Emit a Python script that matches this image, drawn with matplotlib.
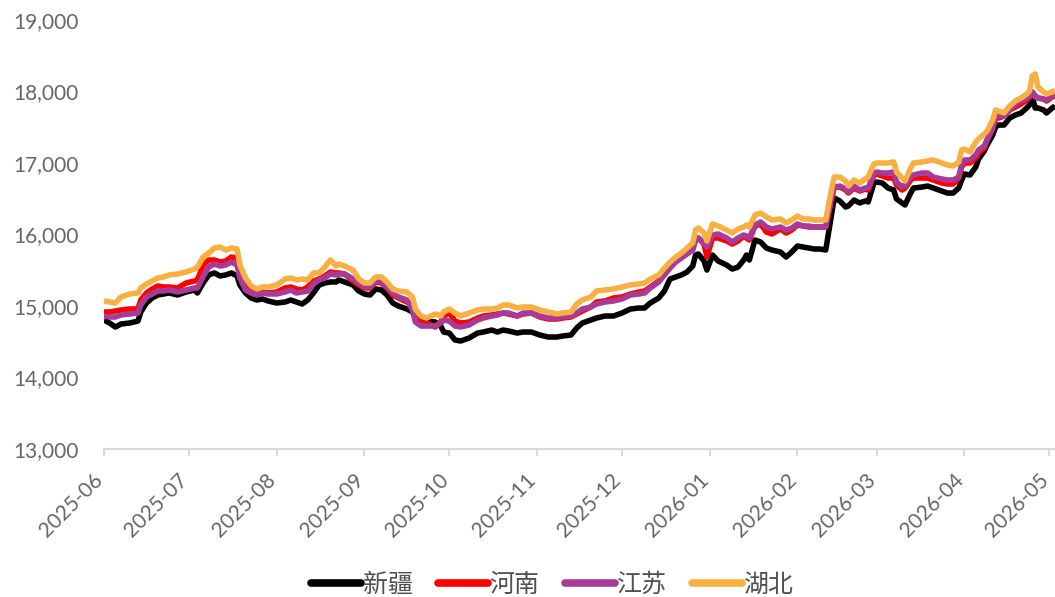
import matplotlib
matplotlib.use("Agg")
import matplotlib.pyplot as plt
import matplotlib.dates as mdates
import matplotlib.ticker as mticker
import matplotlib.transforms as mtransforms
from matplotlib.lines import Line2D
import pandas as pd

# ---------------- data ----------------
start_date = "2025-06-01"
days_since_start = [
    0, 2, 4, 6, 9, 12, 13, 15, 17, 19, 21, 23, 26, 29, 32, 33, 35, 37, 39, 41, 43, 45, 47, 48, 50, 52, 54, 56, 58,
    61, 64, 66, 68, 70, 72, 74, 76, 78, 80, 82, 83, 85, 88, 90, 92, 94, 96, 98, 100, 102, 104, 107, 109, 110, 112, 114,
    117, 119, 120, 122, 124, 126, 129, 132, 134, 137, 139, 141, 143, 146, 148, 151, 154, 157, 160, 162, 165, 167, 169, 172,
    174, 177, 180, 183, 186, 189, 191, 193, 196, 198, 200, 202, 204, 206, 208, 209, 210, 212, 213, 215, 217, 220, 222, 224,
    226, 227, 228, 230, 232, 234, 236, 239, 241, 243, 245, 247, 249, 251, 253, 255, 257, 258, 260, 262, 263, 265, 267, 269,
    270, 272, 273, 275, 277,
    279, 280, 282, 283, 285, 286, 289, 291, 293, 296, 298, 300, 302, 303, 304, 306, 308, 309, 311, 312, 314, 315, 316, 318,
    320, 322, 324, 326, 327, 328, 329, 330, 332, 333, 335, 336,
]

xinjiang = [
    14804, 14762, 14706, 14748, 14762, 14790, 14916, 15042, 15112, 15154, 15168, 15182, 15154, 15196, 15224, 15182, 15322,
    15434, 15462, 15420, 15434, 15462, 15420, 15294, 15182, 15112, 15084, 15098, 15070,
    15042, 15056, 15084, 15056, 15028, 15084, 15182, 15294, 15322, 15336, 15336, 15364, 15336, 15294, 15210, 15168, 15154,
    15238, 15224, 15154, 15042, 15000, 14958, 14916, 14832, 14804, 14790,
    14776, 14720, 14636, 14622, 14525, 14510, 14552, 14622, 14636, 14664, 14636, 14664, 14650, 14622, 14636, 14636, 14594,
    14566, 14566, 14580, 14594, 14692, 14762, 14804,
    14832, 14860, 14860, 14902, 14958, 14972, 14972, 15042, 15112, 15210, 15378, 15406, 15434, 15476, 15559, 15713, 15727,
    15629, 15503, 15713, 15629, 15573, 15517, 15545,
    15643, 15713, 15643, 15923, 15895, 15811, 15783, 15755, 15685, 15755, 15839, 15825, 15811, 15797, 15797, 15783, 16273,
    16510, 16469, 16385, 16399, 16482, 16441, 16469, 16455, 16720, 16734, 16720, 16650,
    16622, 16497, 16441, 16413, 16580, 16650, 16664, 16678, 16650, 16608, 16580, 16580, 16650, 16762, 16846, 16832, 16944,
    17056, 17168, 17252, 17392, 17503, 17531, 17531, 17629, 17671, 17699, 17769, 17811, 17923, 17769, 17769, 17741, 17699,
    17769, 17797,
]

henan = [
    14916, 14916, 14930, 14944, 14958, 14958, 15084, 15182, 15238, 15280, 15266, 15266, 15252, 15322, 15350, 15364, 15573,
    15643, 15643, 15615, 15629, 15685, 15671, 15503, 15308, 15224, 15182, 15196, 15182,
    15196, 15252, 15266, 15238, 15224, 15266, 15350, 15378, 15420, 15476, 15462, 15462, 15448, 15350, 15294, 15252, 15252,
    15336, 15322, 15252, 15154, 15112, 15056, 15014, 14860, 14804, 14762,
    14706, 14776, 14860, 14902, 14790, 14762, 14776, 14832, 14860, 14874, 14888, 14902, 14888, 14860, 14888, 14902, 14846,
    14818, 14818, 14832, 14846, 14888, 14930, 14986,
    15056, 15070, 15112, 15126, 15168, 15196, 15210, 15266, 15350, 15448, 15545, 15629, 15685, 15741, 15797, 15923, 15951,
    15867, 15685, 15951, 15951, 15909, 15867, 15909,
    15979, 15951, 15923, 16119, 16147, 16035, 16007, 16077, 16021, 16063, 16133, 16119, 16105, 16105, 16105, 16105, 16482,
    16664, 16664, 16622, 16580, 16650, 16608, 16636, 16622, 16832, 16846, 16818, 16790,
    16790, 16692, 16622, 16650, 16762, 16790, 16790, 16790, 16762, 16720, 16706, 16706, 16790, 16944, 17000, 17000, 17070,
    17140, 17210, 17322, 17490, 17629, 17629, 17657, 17741, 17783, 17825, 17880, 17923, 17993, 17937, 17909, 17895, 17867,
    17923, 17951,
]

jiangsu = [
    14860, 14846, 14846, 14874, 14888, 14902, 15014, 15126, 15168, 15210, 15210, 15224, 15196, 15224, 15252, 15252, 15406,
    15545, 15587, 15559, 15573, 15615, 15573, 15392, 15224, 15182, 15154, 15182, 15168,
    15168, 15196, 15224, 15182, 15196, 15210, 15308, 15364, 15392, 15448, 15434, 15448, 15448, 15378, 15322, 15266, 15266,
    15350, 15336, 15266, 15182, 15126, 15084, 14944, 14776, 14720, 14720,
    14720, 14762, 14804, 14790, 14720, 14706, 14734, 14804, 14832, 14860, 14874, 14902, 14902, 14860, 14902, 14902, 14860,
    14832, 14832, 14846, 14860, 14902, 14958, 14986,
    15028, 15056, 15070, 15098, 15154, 15168, 15182, 15252, 15336, 15434, 15531, 15615, 15671, 15727, 15783, 15923, 15951,
    15881, 15825, 15993, 16007, 15951, 15895, 15951,
    15993, 15979, 15951, 16133, 16175, 16105, 16077, 16105, 16063, 16091, 16147, 16119, 16119, 16105, 16105, 16105, 16524,
    16664, 16678, 16636, 16594, 16678, 16622, 16650, 16650, 16860, 16874, 16860, 16860,
    16874, 16734, 16664, 16692, 16804, 16832, 16860, 16860, 16804, 16776, 16762, 16762, 16804, 16986, 17042, 17042, 17112,
    17182, 17238, 17322, 17490, 17671, 17657, 17657, 17741, 17825, 17867, 17909, 17937, 17993, 17923, 17909, 17895, 17880,
    17937, 17965,
]

hubei = [
    15070, 15056, 15042, 15126, 15168, 15182, 15252, 15308, 15350, 15392, 15406, 15434, 15448, 15476, 15517, 15545, 15685,
    15741, 15811, 15825, 15783, 15811, 15797, 15573, 15392, 15280, 15238, 15266, 15266,
    15294, 15378, 15392, 15364, 15378, 15364, 15462, 15462, 15545, 15643, 15559, 15587, 15559, 15503, 15378, 15322, 15322,
    15406, 15406, 15336, 15238, 15210, 15196, 15126, 14958, 14860, 14832,
    14888, 14860, 14916, 14958, 14902, 14860, 14902, 14944, 14958, 14958, 14972, 15014, 15014, 14972, 14986, 14986, 14944,
    14916, 14888, 14902, 14916, 15028, 15084, 15126,
    15210, 15224, 15238, 15266, 15294, 15308, 15322, 15378, 15434, 15531, 15615, 15685, 15741, 15811, 15881, 16063, 16091,
    16021, 15909, 16147, 16119, 16063, 16021, 16077,
    16105, 16133, 16105, 16273, 16301, 16245, 16203, 16217, 16161, 16203, 16259, 16217, 16217, 16203, 16203, 16203, 16622,
    16804, 16804, 16748, 16678, 16762, 16720, 16776, 16804, 16986, 17000, 17000, 17000,
    17014, 16874, 16790, 16748, 16930, 17000, 17014, 17028, 17042, 17000, 16972, 16958, 17014, 17182, 17196, 17154, 17294,
    17336, 17406, 17448, 17601, 17741, 17727, 17699, 17797, 17867, 17909, 17965, 18007, 18217, 18245, 18063, 17993, 17965,
    17993, 18021,
]

series_names = ["新疆", "河南", "江苏", "湖北"]
series_values = [xinjiang, henan, jiangsu, hubei]
series_colors = ["#000000", "#FF0000", "#A93B98", "#F9B042"]

y_ticks = [13000, 14000, 15000, 16000, 17000, 18000, 19000]

for s in series_values:
    assert len(s) == len(days_since_start)

dates = pd.Timestamp(start_date) + pd.to_timedelta(days_since_start, unit="D")

# ---------------- figure ----------------
W, H = 1055, 597
fig = plt.figure(figsize=(W / 100, H / 100), dpi=100)
ax = fig.add_axes([104 / W, 1 - 449 / H, (1055 - 104) / W, (449 - 20) / H])

for name, vals, col in zip(series_names, series_values, series_colors):
    ax.plot(dates, vals, color=col, lw=4.0, solid_joinstyle="round", solid_capstyle="butt", label=name)

ax.set_ylim(13000, 19000)
ax.set_yticks(y_ticks)
ax.yaxis.set_major_formatter(mticker.FuncFormatter(lambda v, p: f"{int(v):,}"))
ax.set_xlim(pd.Timestamp(start_date), pd.Timestamp(start_date) + pd.Timedelta(days=336))
ax.xaxis.set_major_locator(mdates.MonthLocator())
ax.xaxis.set_major_formatter(mdates.DateFormatter("%Y-%m"))

for sp in ["top", "right", "left"]:
    ax.spines[sp].set_visible(False)
ax.spines["bottom"].set_color("#D9D9D9")
ax.spines["bottom"].set_linewidth(1.5)

tick_gray = "#666666"
ax.tick_params(axis="y", length=0, pad=18.5, labelsize=15, labelcolor=tick_gray)
ax.tick_params(axis="x", length=5, width=1.5, color="#D9D9D9", pad=10, labelsize=15, labelcolor=tick_gray)
for lab in ax.get_yticklabels():
    lab.set_fontfamily(["Lato", "DejaVu Sans"])
shift = mtransforms.ScaledTranslation(3 / 100, 0, fig.dpi_scale_trans)
for lab in ax.get_xticklabels():
    lab.set_fontfamily(["Lato", "DejaVu Sans"])
    lab.set_rotation(45)
    lab.set_ha("right")
    lab.set_va("top")
    lab.set_rotation_mode("default")
    lab.set_transform(lab.get_transform() + shift)

handles = [Line2D([0], [0], color=c, lw=5.5, solid_capstyle="round") for c in series_colors]
leg = fig.legend(handles, series_names, loc="center", bbox_to_anchor=(552 / W, 1 - 585 / H), ncol=4,
                 frameon=False, handlelength=2.0, handletextpad=0.08, columnspacing=1.0,
                 prop=dict(family=["Noto Sans CJK SC", "DejaVu Sans"], size=18))
for t in leg.get_texts():
    t.set_color("#505050")

fig.savefig("out.png", dpi=100)
